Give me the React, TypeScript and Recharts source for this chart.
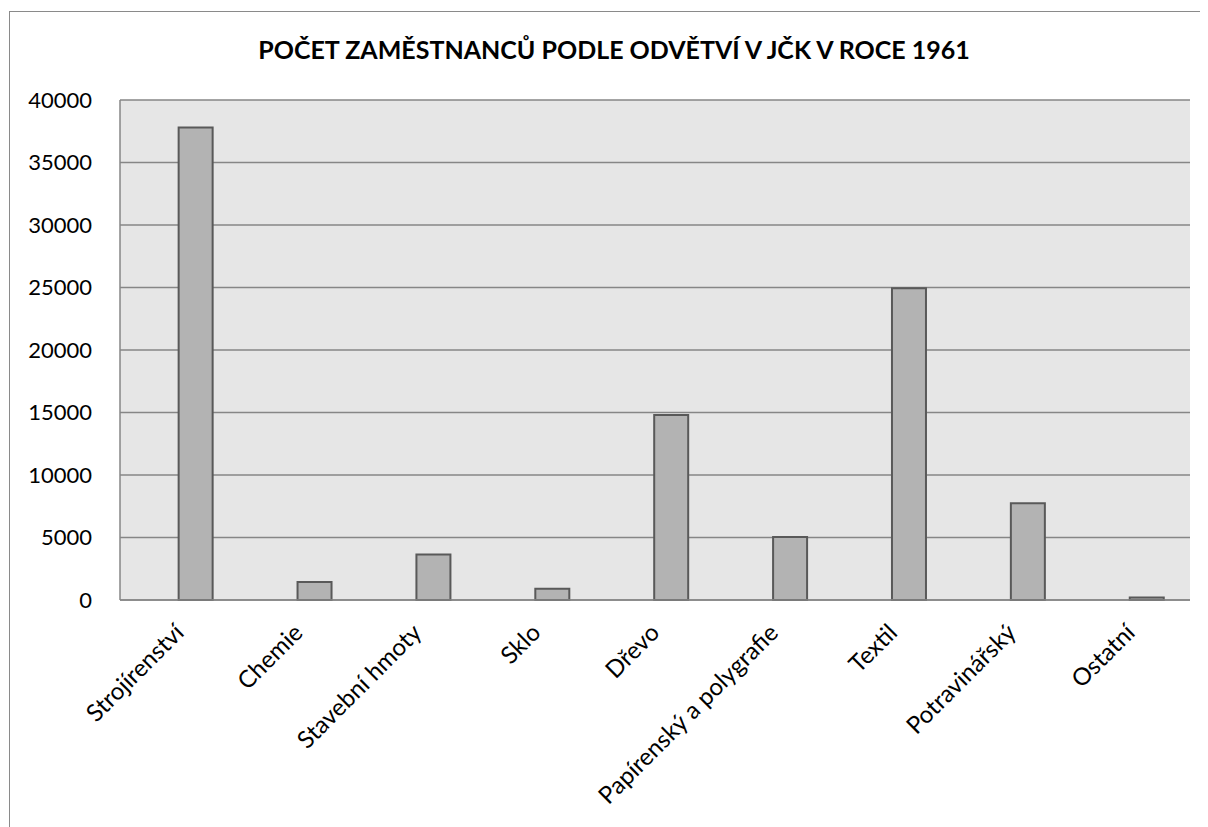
import React from "react";
import { Bar, BarChart, CartesianGrid, XAxis, YAxis } from "recharts";

// Počet zaměstnanců podle odvětví, JČK 1961
const odvetvi = [
  "Strojírenství",
  "Chemie",
  "Stavební hmoty",
  "Sklo",
  "Dřevo",
  "Papírenský a polygrafie",
  "Textil",
  "Potravinářský",
  "Ostatní",
];
const zamestnanci = [37800, 1450, 3650, 900, 14800, 5050, 24950, 7750, 200];
const yTicks = [0, 5000, 10000, 15000, 20000, 25000, 30000, 35000, 40000];

const TITLE = "POČET ZAMĚSTNANCŮ PODLE ODVĚTVÍ V JČK V ROCE 1961";
const FONT = "Lato, 'Open Sans', sans-serif";
const GRID = "#868686";
const PLOT_BG = "#e6e6e6";
const BAR_FILL = "#b3b3b3";
const BAR_STROKE = "#595959";

const data = odvetvi.map((name, i) => ({ idx: i, name, value: zamestnanci[i] }));
const xTicks = odvetvi.map((_, i) => i);

function CategoryTick({ x, y, payload }: { x?: number; y?: number; payload?: { value: number } }) {
  const label = odvetvi[payload?.value ?? 0];
  return (
    <g transform={`translate(${(x ?? 0) - 15},${(y ?? 0) + 22})`}>
      <text
        x={0}
        y={0}
        dy={6}
        textAnchor="end"
        transform="rotate(-45)"
        fontSize={24}
        fontFamily={FONT}
        fill="#000"
      >
        {label}
      </text>
    </g>
  );
}

export default function App() {
  return (
    <div style={{ position: "relative", width: 1200, height: 819, overflow: "hidden", background: "#fff" }}>
      <div
        style={{
          position: "absolute",
          left: 1,
          top: 3,
          width: 1260,
          height: 900,
          border: "1.5px solid #8a8a8a",
          boxSizing: "border-box",
        }}
      />
      <div
        style={{
          position: "absolute",
          left: 0,
          top: 26,
          width: 1212,
          textAlign: "center",
          fontFamily: FONT,
          fontWeight: 700,
          fontSize: 25,
          color: "#000",
        }}
      >
        {TITLE}
      </div>
      <div style={{ position: "absolute", left: 0, top: 0 }}>
        <BarChart width={1200} height={819} data={data} margin={{ top: 92, right: 18, bottom: 127, left: 12 }}>
          <CartesianGrid vertical={false} fill={PLOT_BG} stroke={GRID} strokeWidth={1.5} />
          <XAxis
            dataKey="idx"
            type="number"
            domain={[-0.64, 8.36]}
            ticks={xTicks}
            interval={0}
            tickLine={false}
            axisLine={{ stroke: GRID, strokeWidth: 1.5 }}
            tick={<CategoryTick />}
            height={100}
            allowDataOverflow
          />
          <YAxis
            domain={[0, 40000]}
            ticks={yTicks}
            interval={0}
            width={100}
            tickLine={false}
            axisLine={{ stroke: GRID, strokeWidth: 1.5 }}
            tick={{ fontSize: 22, fontFamily: FONT, fill: "#000" }}
            tickMargin={22}
          />
          <Bar
            dataKey="value"
            barSize={34}
            fill={BAR_FILL}
            stroke={BAR_STROKE}
            strokeWidth={2}
            isAnimationActive={false}
          />
        </BarChart>
      </div>
    </div>
  );
}
